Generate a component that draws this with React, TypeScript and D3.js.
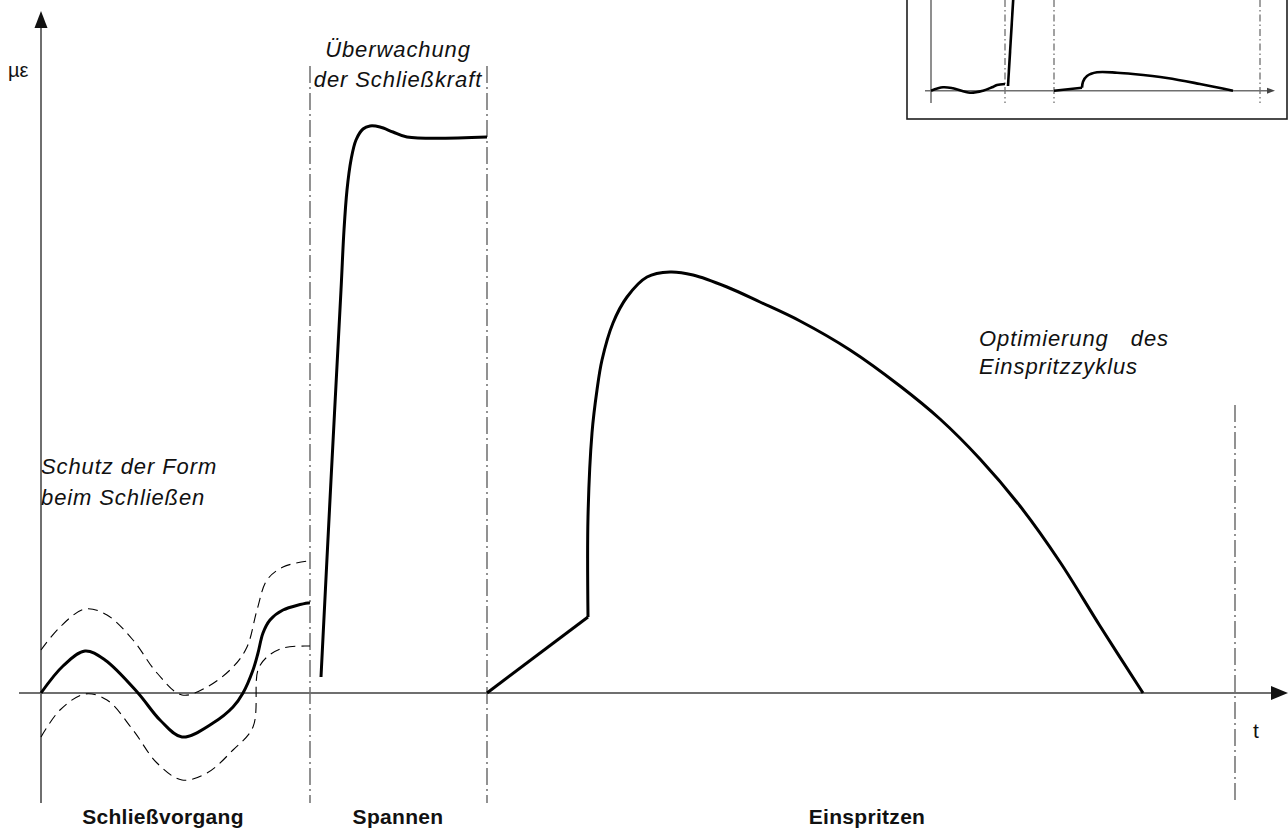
import React from "react";
import * as d3 from "d3";

// ---- Main chart data (t = time units, v = µε units; 0 at the crossing of the axes)
const closeT = [0, 22, 44, 64, 97, 119, 141, 172, 192, 202, 212, 217, 222, 229, 242, 267, 269];
const closeV = [0, 27, 42, 33, 0, -27, -44, -30, -14, 0, 23, 40, 60, 73, 83, 90, 90];
const upperT = [0, 19, 44, 66, 92, 116, 141, 166, 192, 206, 216, 226, 242, 267, 269];
const upperV = [43, 66, 84, 78, 53, 20, -2, 6, 26, 46, 83, 113, 126, 132, 132];
const lowerT = [0, 19, 44, 66, 92, 116, 141, 166, 192, 212, 217, 226, 242, 267, 269];
const lowerV = [-44, -17, -1, -7, -37, -70, -87, -80, -57, -34, 23, 36, 45, 47, 47];
const clampT = [280, 290, 300, 303, 306, 310, 315, 322, 329, 339, 352, 366, 446];
const clampV = [16, 213, 403, 463, 503, 533, 553, 564, 567, 566, 561, 556, 556];
const rampT = [446, 547];
const rampV = [0, 76];
const injectT = [547, 547, 551, 556, 561, 572, 586, 606, 629, 652, 686, 719, 759, 809, 859, 899, 939, 979, 1019, 1059, 1102];
const injectV = [76, 176, 260, 303, 333, 370, 396, 416, 421, 418, 406, 391, 372, 343, 307, 274, 234, 187, 131, 67, 0];
const phaseLines = [269, 446, 1194];
const phaseLabels = ["Schließvorgang", "Spannen", "Einspritzen"];
const phaseCenters = [122, 357, 826];

// ---- Inset data
const insetAT = [0, 12, 22, 39, 52, 61, 66, 74];
const insetAV = [0, 3.4, 2.4, -2, 0, 3.4, 5.7, 6.7];
const insetBT = [77, 82.5];
const insetBV = [4.7, 96];
const insetCT = [123, 151, 152, 156, 166, 186, 202, 236, 269, 302];
const insetCV = [0, 3, 9, 14.7, 18.4, 18, 16.7, 12.7, 6.7, 0];
const insetLines = [74, 123, 329];

const FONT = "'Liberation Sans', Arial, Helvetica, sans-serif";

export default function App() {
  const W = 1288, H = 830;
  const x = d3.scaleLinear().domain([0, 1246]).range([41, 1287]);
  const y = d3.scaleLinear().domain([0, 682]).range([693, 11]);
  const xi = d3.scaleLinear().domain([0, 356]).range([931, 1287]);
  const yi = d3.scaleLinear().domain([0, 91]).range([90.7, -0.3]);

  const zip = (a: number[], b: number[]) => a.map((t, i) => [t, b[i]] as [number, number]);
  const smooth = d3.line<[number, number]>().x(d => x(d[0])).y(d => y(d[1])).curve(d3.curveCatmullRom.alpha(0.5));
  const straight = d3.line<[number, number]>().x(d => x(d[0])).y(d => y(d[1]));
  const smoothI = d3.line<[number, number]>().x(d => xi(d[0])).y(d => yi(d[1])).curve(d3.curveCatmullRom.alpha(0.5));
  const straightI = d3.line<[number, number]>().x(d => xi(d[0])).y(d => yi(d[1]));

  const axisCol = "#6f6f6f";
  const dashDot = "17,4,2,4";

  return (
    <svg width={W} height={H} style={{ position: "absolute", left: 0, top: 0, background: "#fff" }}
      fontFamily={FONT}>
      <rect x={0} y={0} width={W} height={H} fill="#fff" />
      {/* Inset */}
      <g>
        <rect x={907} y={-10} width={380} height={129} fill="#fff" stroke="#1e1e1e" strokeWidth={1.6} />
        <line x1={931} x2={931} y1={0} y2={103} stroke="#333" strokeWidth={1.1} />
        {insetLines.map((t, i) => (
          <line key={i} x1={xi(t)} x2={xi(t)} y1={0} y2={103} stroke="#555" strokeWidth={1.1} strokeDasharray="7,3,1.5,3" />
        ))}
        <line x1={925} x2={1269} y1={yi(0)} y2={yi(0)} stroke={axisCol} strokeWidth={1.6} />
        <path d={`M1275,${yi(0)} L1267,${yi(0) - 3} L1267,${yi(0) + 3} Z`} fill="#444" />
        <path d={smoothI(zip(insetAT, insetAV)) || ""} fill="none" stroke="#000" strokeWidth={2.6} />
        <path d={straightI(zip(insetBT, insetBV)) || ""} fill="none" stroke="#000" strokeWidth={2.6} />
        <path d={straightI(zip(insetCT.slice(0, 2), insetCV.slice(0, 2))) || ""} fill="none" stroke="#000" strokeWidth={2.6} />
        <path d={smoothI(zip(insetCT.slice(1), insetCV.slice(1))) || ""} fill="none" stroke="#000" strokeWidth={2.6} />
      </g>

      {/* Phase separators */}
      {phaseLines.map((t, i) => (
        <line key={i} x1={x(t)} x2={x(t)} y1={i < 2 ? 66 : 405} y2={803} stroke="#4a4a4a" strokeWidth={1.2} strokeDasharray={dashDot} />
      ))}

      {/* Axes */}
      <line x1={41} x2={41} y1={26} y2={803} stroke={axisCol} strokeWidth={2} />
      <path d="M41,11 L34.5,28 L47.5,28 Z" fill="#111" />
      <line x1={19} x2={1273} y1={y(0)} y2={y(0)} stroke={axisCol} strokeWidth={2} />
      <path d={`M1288,${y(0)} L1271,${y(0) - 7} L1271,${y(0) + 7} Z`} fill="#111" />

      {/* Tolerance band */}
      <path d={smooth(zip(upperT, upperV)) || ""} fill="none" stroke="#000" strokeWidth={1.1} strokeDasharray="10,6" />
      <path d={smooth(zip(lowerT, lowerV)) || ""} fill="none" stroke="#000" strokeWidth={1.1} strokeDasharray="10,6" />
      {/* Curves */}
      <path d={smooth(zip(closeT, closeV)) || ""} fill="none" stroke="#000" strokeWidth={3} />
      <path d={smooth(zip(clampT, clampV)) || ""} fill="none" stroke="#000" strokeWidth={3} />
      <path d={straight(zip(rampT, rampV)) || ""} fill="none" stroke="#000" strokeWidth={3} />
      <path d={smooth(zip(injectT, injectV)) || ""} fill="none" stroke="#000" strokeWidth={3} strokeLinejoin="round" />

      {/* Axis labels */}
      <text x={8} y={77} fontSize={20} fill="#111">µε</text>
      <text x={1253} y={738} fontSize={21} fill="#111">t</text>

      {/* Annotations */}
      <g fontStyle="italic" fontSize={22} letterSpacing={0.9} fill="#111">
        <text x={398} y={57} textAnchor="middle">Überwachung</text>
        <text x={398} y={87} textAnchor="middle">der Schließkraft</text>
        <text x={41} y={474}>Schutz der Form</text>
        <text x={41} y={505}>beim Schließen</text>
        <text x={979} y={346}>Optimierung</text>
        <text x={1169} y={346} textAnchor="end">des</text>
        <text x={979} y={374}>Einspritzzyklus</text>
      </g>
      <g fontWeight="bold" fontSize={21} letterSpacing={0.3} fill="#111" textAnchor="middle">
        {phaseLabels.map((l, i) => (
          <text key={l} x={x(phaseCenters[i])} y={824}>{l}</text>
        ))}
      </g>
    </svg>
  );
}
